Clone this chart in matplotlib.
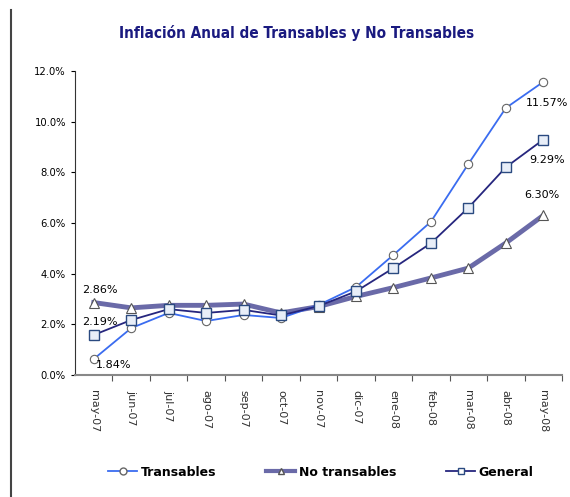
import matplotlib.pyplot as plt
from matplotlib.lines import Line2D

# Datos
meses = ['may-07', 'jun-07', 'jul-07', 'ago-07', 'sep-07', 'oct-07', 'nov-07',
         'dic-07', 'ene-08', 'feb-08', 'mar-08', 'abr-08', 'may-08']
transables = [0.63, 1.85, 2.45, 2.13, 2.37, 2.25, 2.76, 3.47, 4.74, 6.05, 8.33, 10.54, 11.57]
no_transables = [2.86, 2.65, 2.75, 2.75, 2.80, 2.45, 2.70, 3.10, 3.45, 3.83, 4.22, 5.21, 6.30]
general = [1.58, 2.17, 2.60, 2.45, 2.57, 2.35, 2.72, 3.30, 4.22, 5.20, 6.60, 8.20, 9.29]

col_trans = '#3a6cf0'
col_notrans = '#6a6aa8'
col_gen = '#26267e'

fig = plt.figure(figsize=(5.7, 4.97), dpi=100)
ax = fig.add_axes([75 / 570, 1 - 375 / 497, 487 / 570, 304 / 497])

x = list(range(len(meses)))
ax.plot(x, no_transables, color=col_notrans, lw=3.5, marker='^', ms=7,
        mfc='white', mec='#555555', mew=0.8, zorder=2)
ax.plot(x, transables, color=col_trans, lw=1.3, marker='o', ms=6,
        mfc='white', mec='#666666', mew=0.8, zorder=3)
ax.plot(x, general, color=col_gen, lw=1.3, marker='s', ms=6.5,
        mfc='#e8eef8', mec='#2a4a80', mew=1.0, zorder=4)

ax.set_xlim(-0.5, len(meses) - 0.5)
ax.set_ylim(0, 12)
ax.set_yticks([0, 2, 4, 6, 8, 10, 12])
ax.set_yticklabels([f'{v:.1f}%' for v in [0, 2, 4, 6, 8, 10, 12]],
                   fontsize=8, fontstretch='condensed')
ax.set_xticks([i + 0.5 for i in range(len(meses))])
ax.set_xticklabels([])
for i, m in enumerate(meses):
    ax.text(i, -0.6, m, rotation=-90, ha='center', va='top', fontsize=8,
            color='#333333')
ax.tick_params(axis='x', length=4, direction='out', color='#555555')
ax.tick_params(axis='y', length=3, direction='out')

for s in ['top', 'right']:
    ax.spines[s].set_visible(False)
ax.spines['bottom'].set_color('#888888')
ax.spines['bottom'].set_linewidth(1.5)
ax.spines['left'].set_color('#333333')

# Etiquetas de datos
ax.text(-0.3, 3.35, '2.86%', fontsize=8, ha='left', va='center')
ax.text(-0.3, 2.1, '2.19%', fontsize=8, ha='left', va='center')
ax.text(0.05, 0.4, '1.84%', fontsize=8, ha='left', va='center')
ax.text(12.1, 10.75, '11.57%', fontsize=8, ha='center', va='center')
ax.text(12.1, 8.5, '9.29%', fontsize=8, ha='center', va='center')
ax.text(11.95, 7.1, '6.30%', fontsize=8, ha='center', va='center')

fig.text(297 / 570, 1 - 33 / 497, 'Inflación Anual de Transables y No Transables',
         ha='center', va='center', fontsize=11, fontweight='bold',
         color='#1a1a80', fontstretch='condensed')

# Leyenda
handles = [
    Line2D([], [], color=col_trans, lw=1.3, marker='o', ms=5, mfc='white', mec='#666666'),
    Line2D([], [], color=col_notrans, lw=3, marker='^', ms=5, mfc='white', mec='#555555'),
    Line2D([], [], color=col_gen, lw=1.3, marker='s', ms=5, mfc='white', mec='#2a4a80'),
]
fig.legend(handles, ['Transables', 'No transables', 'General'], loc='center',
           bbox_to_anchor=(321 / 570, 1 - 472 / 497), ncol=3, frameon=False,
           handlelength=2.3, columnspacing=4, handletextpad=0.3,
           prop={'weight': 'bold', 'size': 9})

# Línea de borde izquierda
fig.add_artist(Line2D([11 / 570, 11 / 570], [0, 1 - 10 / 497], color='#444444', lw=1.5))

fig.savefig('out.png', dpi=100)
